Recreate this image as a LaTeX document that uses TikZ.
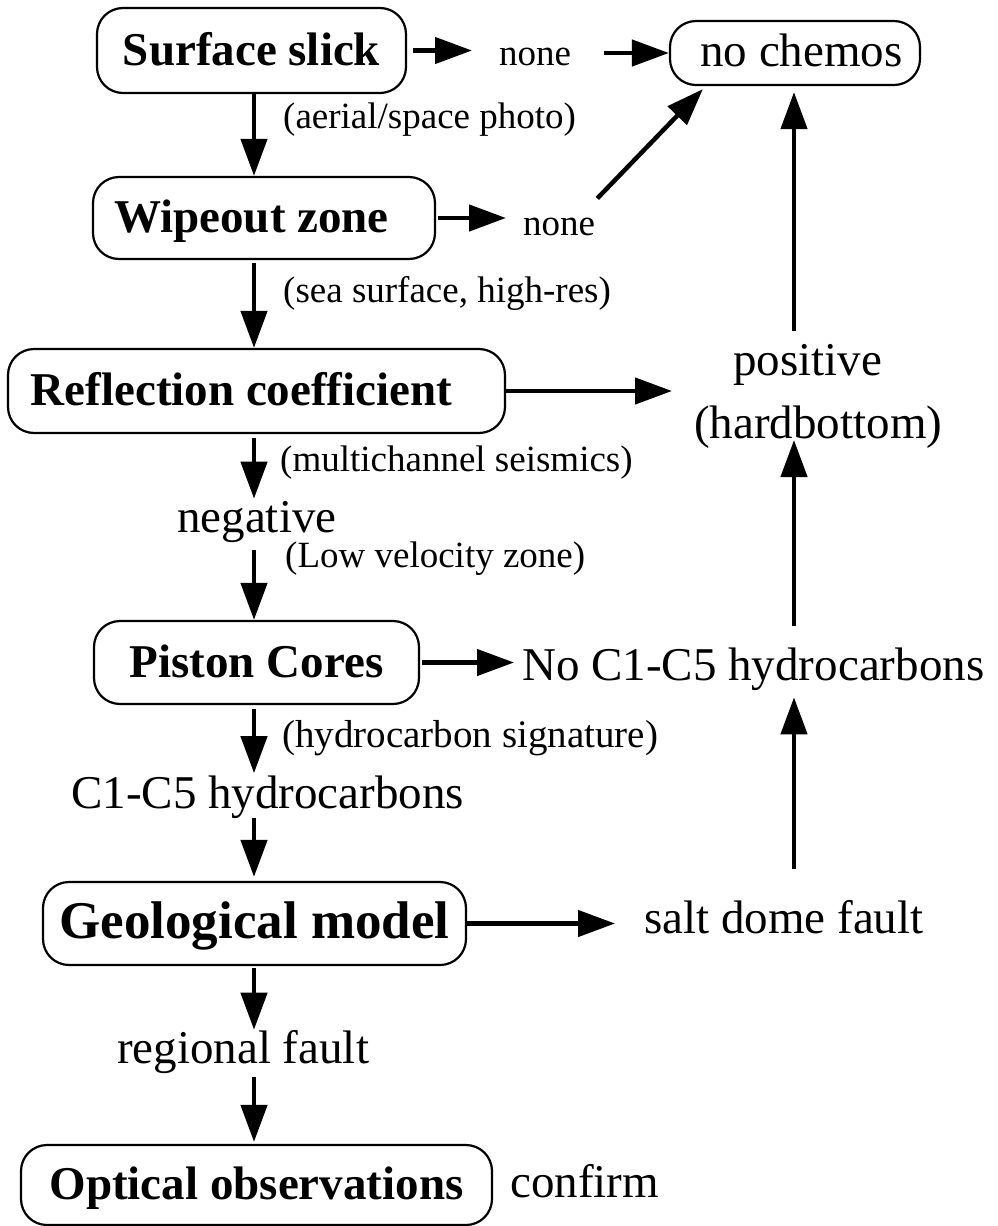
\documentclass[tikz,border=0pt]{standalone}
\usepackage{fontspec}
\setmainfont{Liberation Serif}
\usetikzlibrary{arrows.meta,calc}

\begin{document}
\begin{tikzpicture}[x=1pt,y=-1pt,
		box/.style={draw, line width=2.2pt, rounded corners=26pt, inner sep=0pt, text height=38pt, text depth=9pt, font=\fontsize{47}{56}\selectfont\bfseries},
		lbl/.style={inner sep=0pt, anchor=base west, font=\fontsize{47}{56}\selectfont},
		note/.style={inner sep=0pt, anchor=base west, font=\fontsize{37}{44}\selectfont},
		arr/.style={line width=4.5pt, -{Triangle[length=37pt,width=26pt]}}]
		\useasboundingbox (0,0) rectangle (997,1226);
		\coordinate (axis) at (254,0);
		\coordinate (rcol) at (794,0);
		\node[box, minimum width=309pt, minimum height=85pt] (slick) at (251.5,50.5) {Surface slick};
		\node[box, minimum width=342pt, minimum height=82pt] (wipe) at (264,218) {\hspace*{-25pt}Wipeout zone};
		\node[box, minimum width=497pt, minimum height=84pt] (refl) at (256.5,391) {\hspace*{-30pt}Reflection coefficient};
		\node[box, minimum width=325pt, minimum height=83pt] (piston) at (256.5,662.5) {Piston Cores};
		\node[box, minimum width=423pt, minimum height=83pt, font=\fontsize{53}{62}\selectfont\bfseries] (geo) at (254.5,923.5) {Geological model};
		\node[box, minimum width=471pt, minimum height=80pt] (optic) at (256.5,1185) {Optical observations};
		\node[box, minimum width=250pt, minimum height=64pt, text height=36pt, text depth=10pt, font=\fontsize{47}{56}\selectfont] (chemos) at (795,53) {\hspace*{13pt}no chemos};
		\node[note] (none1) at (499,65) {none};
		\node[note] (none2) at (523,235) {none};
		\node[note] (aerial) at (283,128) {(aerial/space photo)};
		\node[note] (sea) at (283,302) {(sea surface, high-res)};
		\node[note] (multi) at (280,471) {(multichannel seismics)};
		\node[lbl] (neg) at (177,532) {negative};
		\node[note] (lowv) at (285,567) {(Low velocity zone)};
		\node[lbl] (pos) at (733,375) {positive};
		\node[lbl] (hard) at (694,438) {(hardbottom)};
		\node[lbl] (nohc) at (522,680) {No C1-C5 hydrocarbons};
		\node[note, font=\fontsize{39}{46}\selectfont] (hsig) at (282,747) {(hydrocarbon signature)};
		\node[lbl] (c15) at (71,808) {C1-C5 hydrocarbons};
		\node[lbl] (salt) at (644,933) {salt dome fault};
		\node[lbl] (fault) at (117,1063) {regional fault};
		\node[lbl] (conf) at (510,1197) {confirm};
		\draw[arr, shorten <=6pt, shorten >=27pt] (slick.east) -- (slick.east -| none1.west);
		\draw[arr, shorten <=33pt] (none1.east |- chemos.west) -- (chemos.west);
		\draw[arr] (axis |- slick.south) -- (axis |- wipe.north);
		\draw[arr, shorten <=2pt, shorten >=17pt] (wipe.east) -- (wipe.east -| none2.west);
		\draw[arr] ($(none2.north east)+(2,-19)$) -- ($(chemos.south west)+(34,3)$);
		\draw[arr, shorten <=3pt] (axis |- wipe.south) -- (axis |- refl.north);
		\draw[arr, shorten >=22pt] (refl.east) -- (refl.east -| hard.west);
		\draw[arr] ($(rcol |- pos.north)+(0,-13)$) -- ($(rcol |- chemos.south)+(0,6)$);
		\draw[arr, shorten <=4pt, shorten >=2pt] (axis |- refl.south) -- (axis |- neg.north);
		\draw[arr, shorten <=8pt] (axis |- neg.south) -- (axis |- piston.north);
		\draw[arr, shorten <=2pt, shorten >=8pt] (piston.east) -- (piston.east -| nohc.west);
		\draw[arr] ($(rcol |- nohc.north)+(0,-21)$) -- ($(rcol |- hard.base)+(0,2)$);
		\draw[arr, shorten <=4pt, shorten >=2pt] (axis |- piston.south) -- (axis |- c15.north);
		\draw[arr, shorten >=4pt] (axis |- c15.south) -- (axis |- geo.north);
		\draw[arr, shorten >=29pt] (geo.east) -- (geo.east -| salt.west);
		\draw[arr] ($(rcol |- salt.north)+(0,-31)$) -- ($(rcol |- nohc.south)+(0,7)$);
		\draw[arr, shorten <=2pt] (axis |- geo.south) -- (axis |- fault.north);
		\draw[arr, shorten <=4pt, shorten >=2pt] (axis |- fault.south) -- (axis |- optic.north);
	\end{tikzpicture}
\end{document}
